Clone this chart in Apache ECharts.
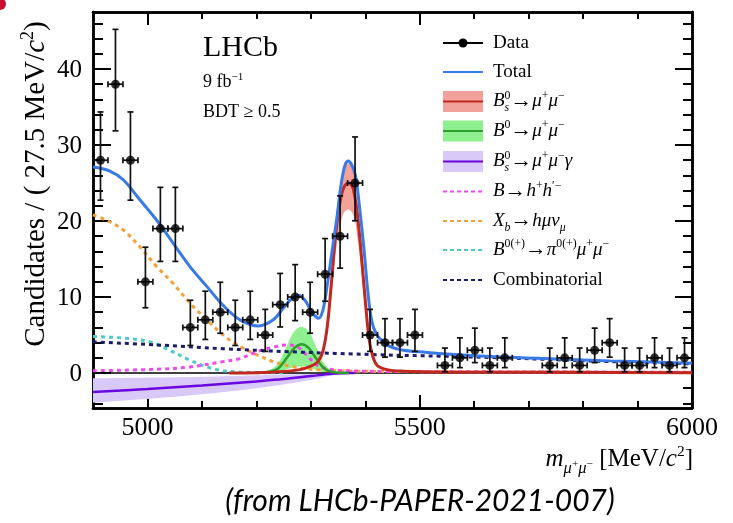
<!DOCTYPE html>
<html><head><meta charset="utf-8">
<script src="https://cdn.jsdelivr.net/npm/echarts@6/dist/echarts.min.js"></script>
<style>html,body{margin:0;padding:0;background:#fff;}#c{width:733px;height:523px;}</style>
</head><body><div id="c"></div>
<script>
// ---------------- data ----------------
const binLow = 4900, binWidth = 27.5;
const dataCounts = [28,38,28,12,19,19,6,7,8,6,7,5,9,10,8,13,18,25,5,4,4,5,0,1,2,3,1,2,0,0,1,2,1,3,4,1,1,2,1,2];

const totalMass = [4900,4930,4956,4986,5017,5047,5078,5109,5139,5170,5204,5231,5250,5265,5278,5290,5302,5314,5322,5330,5339,5348,5356,5363,5369,5375,5382,5390,5398,5405,5412,5420,5430,5445,5470,5500,5550,5650,5750,5850,6000];
const totalVal  = [27.1,26.6,25.4,22.8,20.1,17.1,14.0,11.4,8.9,7.0,6.2,7.0,8.6,9.8,10.2,9.5,8.0,7.2,8.2,11.5,16.0,20.5,25.0,27.4,27.9,27.4,26.0,21.5,16.0,10.5,6.8,5.2,4.3,3.5,3.0,2.8,2.5,2.1,1.85,1.6,1.3];

const bsMass = [5150,5200,5250,5280,5300,5313,5322,5330,5338,5346,5355,5362,5370,5378,5386,5394,5401,5407,5413,5422,5440,5470,5550,6000];
const bsVal  = [0.02,0.05,0.2,0.45,0.9,1.5,2.8,6.0,12.0,18.5,23.0,24.6,25.0,24.2,20.5,14.5,8.7,4.5,2.4,1.0,0.45,0.25,0.15,0.05];
const bsHi   = [0.02,0.06,0.22,0.5,1.0,1.65,3.1,6.6,13.2,20.4,25.3,27.1,27.6,26.6,22.6,16.0,9.6,5.0,2.6,1.1,0.5,0.28,0.17,0.06];
const bsLo   = [0.02,0.04,0.17,0.39,0.77,1.3,2.4,5.2,10.3,15.9,19.8,21.2,21.5,20.8,17.6,12.5,7.5,3.9,2.1,0.86,0.39,0.22,0.13,0.04];

const b0Mass = [5200,5225,5240,5256,5270,5283,5296,5310,5325,5340,5370];
const b0Val  = [0,0.2,0.6,2.0,3.3,3.8,3.3,1.9,0.6,0.15,0];
const b0Hi   = [0,0.4,1.3,3.6,5.5,6.1,5.5,3.4,1.2,0.3,0];
const b0Lo   = [0,0.05,0.1,0.5,0.8,0.9,0.8,0.4,0.1,0.05,0];

const gamMass = [4900,5000,5100,5200,5250,5300,5340,5370,5380];
const gamVal  = [-2.5,-2.1,-1.65,-1.1,-0.8,-0.4,-0.1,0,0];
const gamHi   = [-0.7,-0.6,-0.5,-0.3,-0.2,-0.1,-0.02,0,0];
const gamLo   = [-3.9,-3.4,-2.8,-2.0,-1.5,-0.9,-0.3,0,0];

const hhMass = [4900,5017,5078,5139,5170,5201,5231,5255,5274,5292,5311,5335,5366,5450,6000];
const hhVal  = [0.3,0.5,0.8,1.5,1.9,2.8,3.4,3.7,3.5,2.4,1.05,0.5,0.3,0.2,0.1];

const xbMass = [4900,4931,4956,4986,5017,5047,5078,5109,5139,5170,5201,5231,5262,5300,5350,5450,5600,6000];
const xbVal  = [20.8,19.9,18.8,16.6,14.0,11.8,9.2,7.0,5.0,3.5,2.4,1.5,0.9,0.5,0.3,0.2,0.15,0.1];

const piMass = [4900,4956,5005,5035,5078,5109,5139,5180,5250];
const piVal  = [4.8,4.6,4.1,3.2,1.7,0.8,0.3,0.1,0.02];

const combMass = [4900,5017,5139,5262,5427,5550,5650,5750,5850,6000];
const combVal  = [4.1,3.7,3.2,2.8,2.4,2.2,2.0,1.75,1.5,1.2];

const xMajorTicks = [5000,5500,6000];
const xMinorTicks = [4900,5000,5100,5200,5300,5400,5500,5600,5700,5800,5900,6000];
const yMajorTicks = [0,10,20,30,40];
const yMinorTicks = [-4,-2,0,2,4,6,8,10,12,14,16,18,20,22,24,26,28,30,32,34,36,38,40,42,44,46];
const xTickLabels = ['5000','5500','6000'];
const yTickLabels = ['0','10','20','30','40'];
const xRange = [4900, 6000];
const yRange = [-4.6, 47.5];

// ---------------- helpers ----------------
const SERIF = '"Liberation Serif", serif';
const C = {
  blue:'#3a7ae6', red:'#c1281f', redBand:'#f3a29b', green:'#2e9e2e', greenBand:'#8ff08f',
  purple:'#6b08e0', purpleBand:'#d8c9f8', magenta:'#ee4aee', orange:'#f2a23a', cyan:'#4fcaca', navy:'#1b1b6e'
};
function pairs(xs, ys){ return xs.map((x,i)=>[x, ys[i]]); }
function curve(xs, ys, color, width, dashed, z){
  return {type:'line', data:pairs(xs,ys), smooth:0.35, symbol:'none', showSymbol:false,
    lineStyle:{color, width, type: dashed ? [4,4] : 'solid', cap:'butt'}, z, silent:true};
}
// centripetal Catmull-Rom through pixel points (rendering only)
function crPath(P, seg){
  const out=[P[0]]; const n=P.length;
  const d=(a,b)=>Math.max(Math.pow(Math.hypot(b[0]-a[0],b[1]-a[1]),0.5),1e-4);
  for(let i=0;i<n-1;i++){
    const p0=P[Math.max(i-1,0)], p1=P[i], p2=P[i+1], p3=P[Math.min(i+2,n-1)];
    const t0=0, t1=t0+d(p0,p1), t2=t1+d(p1,p2), t3=t2+d(p2,p3);
    for(let k=1;k<=seg;k++){
      const t=t1+(t2-t1)*k/seg; const pt=[];
      for(let j=0;j<2;j++){
        const A1=(t1-t)/(t1-t0)*p0[j]+(t-t0)/(t1-t0)*p1[j];
        const A2=(t2-t)/(t2-t1)*p1[j]+(t-t1)/(t2-t1)*p2[j];
        const A3=(t3-t)/(t3-t2)*p2[j]+(t-t2)/(t3-t2)*p3[j];
        const B1=(t2-t)/(t2-t0)*A1+(t-t0)/(t2-t0)*A2;
        const B2=(t3-t)/(t3-t1)*A2+(t-t1)/(t3-t1)*A3;
        pt.push((t2-t)/(t2-t1)*B1+(t-t1)/(t2-t1)*B2);
      }
      out.push(pt);
    }
  }
  return out;
}
function band(xs, lo, hi, color, z){
  return {type:'custom', coordinateSystem:'cartesian2d', data:pairs(xs,hi), encode:{x:0,y:1}, z, silent:true, clip:true,
    renderItem:(params, api)=>{
      if(params.dataIndex!==0) return null;
      const up=crPath(xs.map((x,i)=>api.coord([x,hi[i]])), 10);
      const dn=crPath(xs.map((x,i)=>api.coord([x,lo[i]])), 10).reverse();
      return {type:'polygon', shape:{points:up.concat(dn)}, style:{fill:color, stroke:null}};
    }};
}
function poissonLo(n){ if(n<=0) return 0; return n*Math.pow(1-1/(9*n)-1/(3*Math.sqrt(n)),3); }
function poissonHi(n){ const m=n+1; return m*Math.pow(1-1/(9*m)+1/(3*Math.sqrt(m)),3); }

const dataPts = [];
dataCounts.forEach((n,k)=>{ if(n>0){ const x=binLow+binWidth*(k+0.5); dataPts.push([x,n,poissonLo(n),poissonHi(n)]); }});

const mctx = document.createElement('canvas').getContext('2d');
function fnt(s,it){ return (it?'italic ':'') + s.toFixed(1) + 'px ' + SERIF; }
function tw(t,s,it){ mctx.font = fnt(s,it); return mctx.measureText(t).width; }
function layoutMath(parts,size){
  let x=0, stackW=null; const items=[];
  for(const p of parts){
    const s=size*(p.sz||1); const w=tw(p.t,s,p.it);
    items.push({t:p.t,s,it:p.it,x,dy:(p.dy||0)*size});
    if(p.stack){ stackW=w; continue; }
    x += stackW!==null ? Math.max(w,stackW) : w; stackW=null;
  }
  return {items,width:x};
}
function mathEls(parts,size,x0,base,align,fill){
  const L=layoutMath(parts,size);
  const off = align==='right' ? -L.width : align==='center' ? -L.width/2 : 0;
  return L.items.map(it=>({type:'text', x:x0+off+it.x, y:base-it.dy-0.32*it.s, silent:true,
    style:{text:it.t, font:fnt(it.s,it.it), fill:fill||'#000', align:'left', verticalAlign:'middle'}}));
}
const SUP = {sz:0.62, dy:0.42}, SUB = {sz:0.62, dy:-0.24};
const sup = t => Object.assign({t}, SUP);
const sub = (t,it) => Object.assign({t, it}, SUB);
const I = t => ({t, it:true});
const R = t => ({t});

// ---------------- axes ----------------
function xAx(pos, ticks, len){
  return {type:'value', min:xRange[0], max:xRange[1], position:pos, gridIndex:0,
    axisLine:{show:true, onZero:false, lineStyle:{color:'#000', width:2.5}},
    axisTick:{show:true, inside:true, length:len, customValues:ticks, lineStyle:{color:'#000', width:2}},
    axisLabel:{show:false}, splitLine:{show:false}};
}
function yAx(pos, ticks, len){
  return {type:'value', min:yRange[0], max:yRange[1], position:pos, gridIndex:0,
    axisLine:{show:true, onZero:false, lineStyle:{color:'#000', width:2.5}},
    axisTick:{show:true, inside:true, length:len, customValues:ticks, lineStyle:{color:'#000', width:2}},
    axisLabel:{show:false}, splitLine:{show:false}};
}

// ---------------- legend & texts (graphic) ----------------
const legRows = [43,72,101.5,131,161.5,191.5,221,250,280];
const LX1=443, LX2=483, LT=493, LFS=19;
const g = [];
g.push({type:'circle', shape:{cx:0, cy:4, r:6}, style:{fill:'#c8102e'}, silent:true});
g.push({type:'line', shape:{x1:LX1,y1:legRows[0],x2:LX2,y2:legRows[0]}, style:{stroke:'#000', lineWidth:2}});
g.push({type:'circle', shape:{cx:(LX1+LX2)/2, cy:legRows[0], r:4.5}, style:{fill:'#000'}});
g.push({type:'line', shape:{x1:LX1,y1:legRows[1],x2:LX2,y2:legRows[1]}, style:{stroke:C.blue, lineWidth:2}});
[[2,C.redBand,C.red],[3,C.greenBand,C.green],[4,C.purpleBand,C.purple]].forEach(([r,bc,lc])=>{
  g.push({type:'rect', shape:{x:LX1,y:legRows[r]-10.5,width:LX2-LX1,height:21}, style:{fill:bc}});
  g.push({type:'line', shape:{x1:LX1,y1:legRows[r],x2:LX2,y2:legRows[r]}, style:{stroke:lc, lineWidth:2}});
});
[[5,C.magenta],[6,C.orange],[7,C.cyan],[8,C.navy]].forEach(([r,c])=>{
  g.push({type:'line', shape:{x1:LX1,y1:legRows[r],x2:LX2,y2:legRows[r]}, style:{stroke:c, lineWidth:2, lineDash:[4,3]}});
});
const ARROW = {t:'\u2192', sz:1.15, dy:-0.02};
const legLabels = [
  [R('Data')],
  [R('Total')],
  [I('B'), Object.assign(sup('0'),{stack:true}), sub('s',true), ARROW, I('μ'), sup('+'), I('μ'), sup('−')],
  [I('B'), sup('0'), ARROW, I('μ'), sup('+'), I('μ'), sup('−')],
  [I('B'), Object.assign(sup('0'),{stack:true}), sub('s',true), ARROW, I('μ'), sup('+'), I('μ'), sup('−'), I('γ')],
  [I('B'), ARROW, I('h'), sup('+'), I('h'), sup('\u2032−')],
  [I('X'), sub('b',true), ARROW, I('h'), I('μ'), I('ν'), sub('μ',true)],
  [I('B'), sup('0(+)'), ARROW, I('π'), sup('0(+)'), I('μ'), sup('+'), I('μ'), sup('−')],
  [R('Combinatorial')]
];
legLabels.forEach((parts,r)=>{ g.push(...mathEls(parts, LFS, LT, legRows[r]+6, 'left')); });

g.push(...mathEls([R('LHCb')], 30, 203, 58, 'left'));
g.push(...mathEls([R('9 fb'), {t:'−1', sz:0.62, dy:0.42}], 18, 203, 88, 'left'));
g.push(...mathEls([R('BDT ≥ 0.5')], 18, 203, 118, 'left'));
g.push(...mathEls([I('m'), {t:'μ',it:true,sz:0.66,dy:-0.28}, {t:'+',sz:0.45,dy:-0.02}, {t:'μ',it:true,sz:0.66,dy:-0.28}, {t:'−',sz:0.45,dy:-0.02},
  R(' [MeV/'), I('c'), sup('2'), R(']')], 25, 693, 467, 'right'));
g.push({type:'group', x:46, y:184, rotation:Math.PI/2, silent:true,
  children: mathEls([R('Candidates / ( 27.5 MeV/'), I('c'), sup('2'), R(')')], 29, 0, 0, 'center')});
g.push({type:'text', x:420, y:501, silent:true, style:{text:'(from LHCb-PAPER-2021-007)', font:'italic 30px Lato, "Open Sans", sans-serif', fill:'#000', align:'center', verticalAlign:'middle'}});

// ---------------- series ----------------
const series = [
  band(gamMass, gamLo, gamHi, C.purpleBand, 2),
  band(b0Mass, b0Lo, b0Hi, C.greenBand, 3),
  band(bsMass, bsLo, bsHi, C.redBand, 4),
  {type:'line', data:[], symbol:'none', markLine:{silent:true, symbol:'none', label:{show:false}, lineStyle:{color:'#000', width:1.5, type:'solid'}, data:[{yAxis:0}]}, z:5},
  curve(piMass, piVal, C.cyan, 3, true, 6),
  curve(xbMass, xbVal, C.orange, 3, true, 6),
  curve(hhMass, hhVal, C.magenta, 3, true, 7),
  curve(gamMass, gamVal, C.purple, 2.5, false, 8),
  curve(b0Mass, b0Val, C.green, 2.5, false, 8),
  curve(combMass, combVal, C.navy, 3, true, 9),
  curve(bsMass, bsVal, C.red, 3, false, 10),
  curve(totalMass, totalVal, C.blue, 3, false, 11),
  {type:'custom', coordinateSystem:'cartesian2d', data:dataPts, encode:{x:0,y:1}, z:20, silent:true,
    renderItem:(params, api)=>{
      const x=api.value(0), n=api.value(1), lo=api.value(2), hi=api.value(3);
      const c=api.coord([x,n]), t=api.coord([x,hi]), b=api.coord([x,lo]);
      const l=api.coord([x-binWidth/2,n]), r=api.coord([x+binWidth/2,n]);
      const st={stroke:'#111', lineWidth:1.7}, cap=3;
      const L=(x1,y1,x2,y2)=>({type:'line', shape:{x1,y1,x2,y2}, style:st});
      return {type:'group', children:[
        L(l[0],c[1],r[0],c[1]), L(c[0],t[1],c[0],b[1]),
        L(c[0]-cap,t[1],c[0]+cap,t[1]), L(c[0]-cap,b[1],c[0]+cap,b[1]),
        L(l[0],c[1]-cap,l[0],c[1]+cap), L(r[0],c[1]-cap,r[0],c[1]+cap)
      ]};
    }},
  {type:'scatter', data:dataPts.map(p=>[p[0],p[1]]), symbol:'circle', symbolSize:9, itemStyle:{color:'#000'}, z:21, silent:true}
];

const chart = echarts.init(document.getElementById('c'), null, {renderer:'canvas'});
chart.setOption({
  animation:false,
  backgroundColor:'#fff',
  grid:{left:93, top:12, width:599, height:396, containLabel:false},
  xAxis:[ xAx('bottom', xMinorTicks, 7), xAx('bottom', xMajorTicks, 13),
          xAx('top', xMinorTicks, 7), xAx('top', xMajorTicks, 13) ],
  yAxis:[ yAx('left', yMinorTicks, 10), yAx('left', yMajorTicks, 18),
          yAx('right', yMinorTicks, 9), yAx('right', yMajorTicks, 17) ],
  series,
  graphic: g
});

// tick labels placed through the library's own axis scales
const bottomPx = chart.convertToPixel({yAxisIndex:0}, yRange[0]);
const leftPx = chart.convertToPixel({xAxisIndex:0}, xRange[0]);
const tickEls = [];
xMajorTicks.forEach((v,i)=>{
  const px = chart.convertToPixel({xAxisIndex:0}, v);
  tickEls.push(...mathEls([R(xTickLabels[i])], 26, px, bottomPx+28, 'center'));
});
yMajorTicks.forEach((v,i)=>{
  const py = chart.convertToPixel({yAxisIndex:0}, v);
  tickEls.push(...mathEls([R(yTickLabels[i])], 25, leftPx-11, py+9, 'right'));
});
chart.setOption({graphic: g.concat(tickEls)});
</script></body></html>
